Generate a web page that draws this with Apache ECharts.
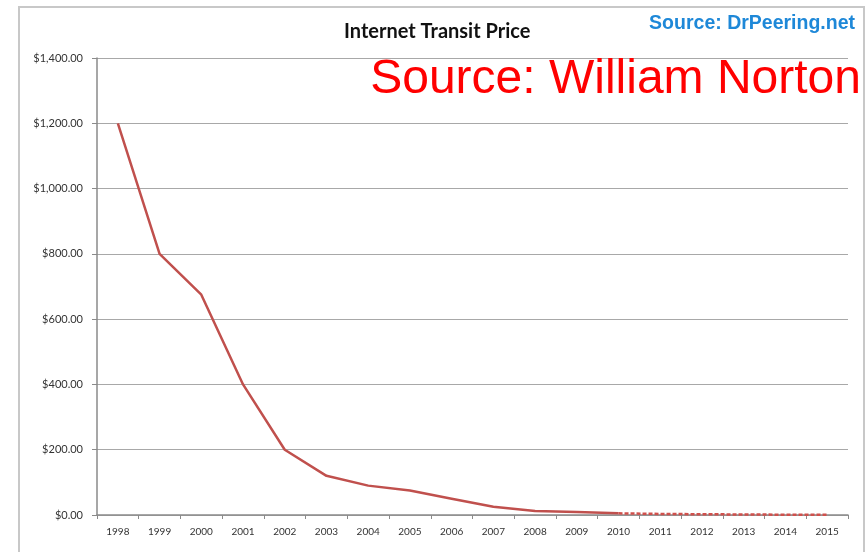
<!DOCTYPE html>
<html>
<head>
<meta charset="utf-8">
<script src="https://cdn.jsdelivr.net/npm/echarts@6/dist/echarts.min.js"></script>
<style>
  html, body { margin: 0; padding: 0; background: #fff; }
  #chart { width: 867px; height: 552px; }
</style>
</head>
<body>
<div id="chart"></div>
<script>
const years = ['1998', '1999', '2000', '2001', '2002', '2003', '2004', '2005', '2006',
  '2007', '2008', '2009', '2010', '2011', '2012', '2013', '2014', '2015'];
// measured prices (per Mbps), solid part
const price = [1200, 800, 675, 400, 200, 120, 90, 75, 50, 25, 12, 9.5, 5,
  null, null, null, null, null];
// projected prices, dotted part
const projected = [null, null, null, null, null, null, null, null, null, null, null, null, 5,
  3.25, 2.34, 1.57, 0.94, 0.63];

const chart = echarts.init(document.getElementById('chart'));

const fmt = v => '$' + v.toLocaleString('en-US', { minimumFractionDigits: 2, maximumFractionDigits: 2 });

chart.setOption({
  animation: false,
  grid: { left: 97, right: 19, top: 58, bottom: 37 },
  graphic: [
    {
      type: 'rect', left: 18, top: 6, z: -1,
      shape: { width: 845, height: 560 },
      style: { fill: '#fff', stroke: '#c8c8c8', lineWidth: 2 }
    },
    {
      type: 'text', left: 344, top: 22,
      style: { text: 'Internet Transit Price', font: 'bold 20px Lato, "Open Sans", sans-serif', fill: '#111' }
    },
    {
      type: 'text', right: 12, top: 14,
      style: { text: 'Source: DrPeering.net', font: 'bold 19.5px "Liberation Sans", Arial, sans-serif', fill: '#1e88d8' }
    },
    {
      type: 'text', right: 6, top: 56, z: 10,
      style: { text: 'Source: William Norton', font: '48px "Liberation Sans", Arial, sans-serif', fill: '#ff0000' }
    }
  ],
  xAxis: {
    type: 'category',
    data: years,
    boundaryGap: true,
    axisLine: { lineStyle: { color: '#8a8a8a', width: 1.5 } },
    axisTick: { show: true, alignWithLabel: false, length: 4, lineStyle: { color: '#8a8a8a' } },
    axisLabel: { color: '#333', fontSize: 10, fontFamily: 'Lato, "Open Sans", sans-serif', margin: 12 }
  },
  yAxis: {
    type: 'value',
    min: 0, max: 1400, interval: 200,
    axisLine: { show: true, lineStyle: { color: '#8a8a8a', width: 1.5 } },
    axisTick: { show: true, length: 5, lineStyle: { color: '#8a8a8a' } },
    splitLine: { lineStyle: { color: '#a8a8a8', width: 1.2 } },
    axisLabel: { color: '#333', fontSize: 11, fontFamily: 'Lato, "Open Sans", sans-serif', margin: 14, formatter: fmt }
  },
  series: [
    {
      type: 'line', data: price, symbol: 'none',
      lineStyle: { color: '#c0504d', width: 2.5 }
    },
    {
      type: 'line', data: projected, symbol: 'none',
      lineStyle: { color: '#d0504c', width: 2.5, type: [4, 2] }
    }
  ]
});
</script>
</body>
</html>
